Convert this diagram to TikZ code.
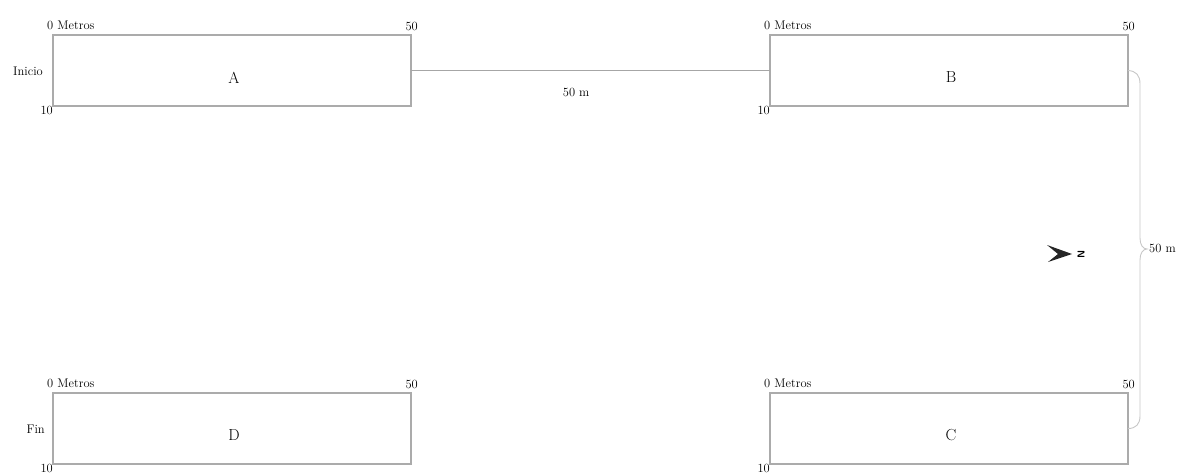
\documentclass[tikz,border=0pt]{standalone}
\usepackage{graphicx}
\begin{document}
\begin{tikzpicture}[x=1pt,y=-1pt,
  box/.style={draw=black!33,line width=1.8pt,minimum width=358pt,minimum height=71pt,inner sep=0pt,outer sep=0pt},
  letter/.style={inner sep=0pt,font=\fontsize{16}{18}\selectfont},
  lbl/.style={inner sep=0pt,font=\fontsize{12.5}{14}\selectfont},
  conn/.style={draw=black!35,line width=1.7pt},
  bracel/.style={draw=black!22,line width=0.9pt}]
\useasboundingbox (0,0) rectangle (1192,474);
% boxes
\node[box] (A) at (232,70.5) {};
\node[box] (B) at (949,70.5) {};
\node[box] (C) at (949,428.5) {};
\node[box] (D) at (232,428.5) {};
\foreach \b in {A,B,C,D}{
  \node[letter] (\b t) at ([xshift=2pt,yshift=-7pt]\b.center) {\b};
  \node[lbl,anchor=south west] (\b0) at ([xshift=-6pt,yshift=5pt]\b.north west) {0 Metros};
  \node[lbl,anchor=south east] (\b50) at ([xshift=7pt,yshift=4pt]\b.north east) {50};
  \node[lbl,anchor=north east] (\b10) at ([xshift=0pt,yshift=0pt]\b.south west) {10};
}
\node[lbl,anchor=east] (ini) at ([xshift=-10pt,yshift=-1pt]A.west) {Inicio};
\node[lbl,anchor=east] (fin) at ([xshift=-8pt,yshift=-1pt]D.west) {Fin};
% connector A-B
\draw[conn] (A.east) -- (B.west) node[lbl,pos=0.46,below=17pt] (dAB) {50 m};
% brace B-C
\coordinate (bt) at (1147,249);
\draw[bracel] (B.east) .. controls (1136,71) and (1140,75) .. (1140,84)
  -- (1140,238) .. controls (1140,245) and (1143,249) .. (bt)
  .. controls (1143,249) and (1140,253) .. (1140,260)
  -- (1140,416) .. controls (1140,424) and (1136,428.5) .. (C.east);
\node[lbl,anchor=west] (dBC) at ([xshift=2pt,yshift=0.5pt]bt) {50 m};
% north arrow
\coordinate (nt) at (1072,254);
\fill[black!85] (nt) -- (1047,245) -- (1058,254) -- (1048,262) -- cycle;
\node[inner sep=0pt,font=\sffamily\bfseries\fontsize{10}{11}\selectfont,rotate=-90,anchor=center] (N) at (1081,254) {N};
\end{tikzpicture}
\end{document}
